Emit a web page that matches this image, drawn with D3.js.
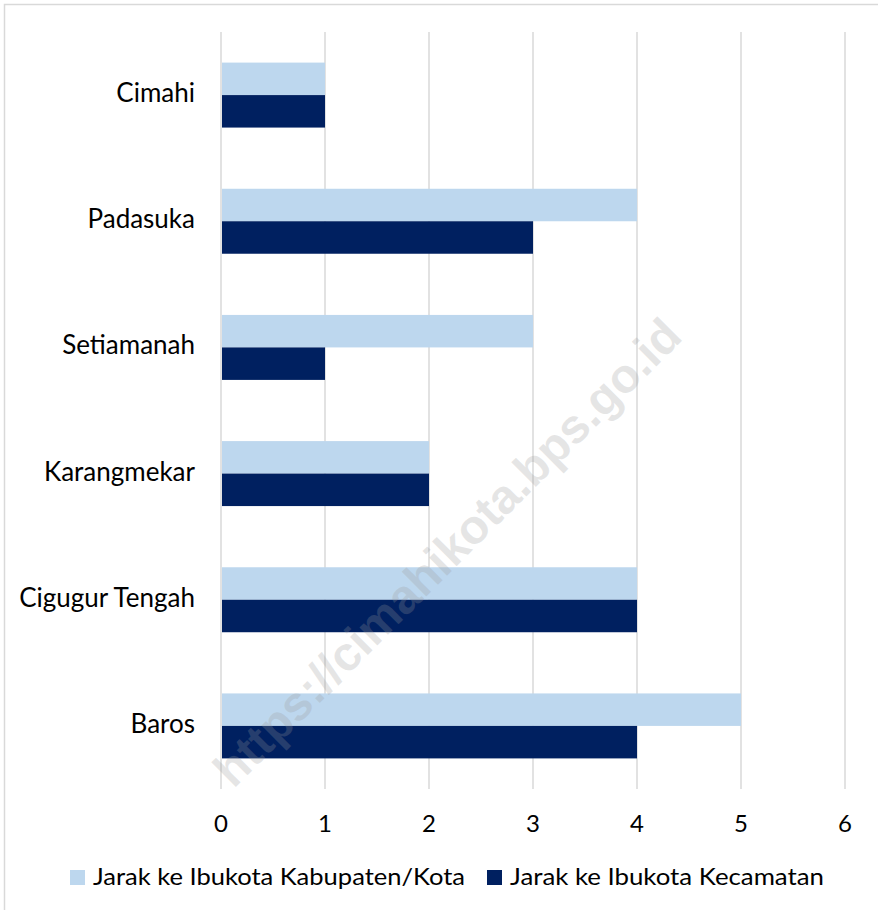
<!DOCTYPE html>
<html lang="en">
<head>
<meta charset="UTF-8">
<title>Jarak ke Ibukota</title>
<script src="https://cdn.jsdelivr.net/npm/d3@7"></script>
<style>
  body { margin: 0; background: #fff; }
  text { font-family: Lato, "Liberation Sans", sans-serif; }
</style>
</head>
<body>
<div id="chart"></div>
<script>
var categories = ["Cimahi", "Padasuka", "Setiamanah", "Karangmekar", "Cigugur Tengah", "Baros"];
var seriesNames = ["Jarak ke Ibukota Kabupaten/Kota", "Jarak ke Ibukota Kecamatan"];
var kabupatenKota = [1, 4, 3, 2, 4, 5];
var kecamatan = [1, 3, 1, 2, 4, 4];
var xTicks = [0, 1, 2, 3, 4, 5, 6];
var colors = ["#bdd7ee", "#002060"];

var width = 878, height = 910;
var margin = {top: 32, left: 221, right: 33, bottom: 121};

var svg = d3.select("#chart").append("svg")
    .attr("width", width)
    .attr("height", height);

// outer frame
svg.append("rect")
    .attr("x", 4.5).attr("y", 4.5)
    .attr("width", width + 10).attr("height", height + 10)
    .attr("fill", "none")
    .attr("stroke", "#d9d9d9")
    .attr("stroke-width", 1.5);

var x = d3.scaleLinear().domain([0, 6]).range([margin.left, width - margin.right]);
var y = d3.scaleBand().domain(categories)
    .range([margin.top, height - margin.bottom])
    .paddingInner(0.485).paddingOuter(0.2425);
var ySub = d3.scaleBand().domain(seriesNames).range([0, y.bandwidth()]);

// gridlines
svg.append("g").selectAll("line")
    .data(xTicks)
    .enter()
    .append("line")
    .attr("x1", function(d){ return x(d); })
    .attr("x2", function(d){ return x(d); })
    .attr("y1", margin.top)
    .attr("y2", height - margin.bottom)
    .attr("stroke", "#d9d9d9")
    .attr("stroke-width", 1.5);

var rows = categories.map(function(c, i){
    return {cat: c, values: [kabupatenKota[i], kecamatan[i]]};
});

var groups = svg.append("g").selectAll("g")
    .data(rows)
    .enter()
    .append("g")
    .attr("transform", function(d){ return "translate(0," + y(d.cat) + ")"; });

groups.selectAll("rect")
    .data(function(d){ return d.values.map(function(v, j){ return {s: seriesNames[j], v: v, j: j}; }); })
    .enter()
    .append("rect")
    .attr("x", x(0) + 1)
    .attr("y", function(d){ return ySub(d.s); })
    .attr("width", function(d){ return x(d.v) - x(0) - 1; })
    .attr("height", ySub.bandwidth())
    .attr("fill", function(d){ return colors[d.j]; });

// category labels
svg.append("g").selectAll("text")
    .data(categories)
    .enter()
    .append("text")
    .attr("x", x(0) - 26)
    .attr("y", function(d){ return y(d) + y.bandwidth() / 2 + 7; })
    .attr("text-anchor", "end")
    .style("font-size", "26px")
    .attr("fill", "#000")
    .text(function(d){ return d; });

// x tick labels
svg.append("g").selectAll("text")
    .data(xTicks)
    .enter()
    .append("text")
    .attr("x", function(d){ return x(d); })
    .attr("y", 832)
    .attr("text-anchor", "middle")
    .style("font-size", "24px")
    .attr("fill", "#000")
    .text(function(d){ return d; });

// legend
var legendX = [70, 487];
var legendW = [372, 314];
var legend = svg.append("g").selectAll("g")
    .data(seriesNames)
    .enter()
    .append("g")
    .attr("transform", function(d, i){ return "translate(" + legendX[i] + ",870)"; });
legend.append("rect")
    .attr("width", 15).attr("height", 15)
    .attr("fill", function(d, i){ return colors[i]; });
legend.append("text")
    .attr("x", 23)
    .attr("y", 15)
    .style("font-size", "24px")
    .attr("textLength", function(d, i){ return legendW[i]; })
    .attr("lengthAdjust", "spacingAndGlyphs")
    .attr("fill", "#000")
    .text(function(d){ return d; });

// watermark
svg.append("text")
    .attr("transform", "translate(447,552) rotate(-45)")
    .attr("text-anchor", "middle")
    .attr("dy", "0.35em")
    .style("font-family", "'Liberation Sans', Arial, sans-serif")
    .style("font-weight", "bold")
    .style("font-size", "48px")
    .attr("fill", "#999")
    .attr("fill-opacity", 0.25)
    .text("https://cimahikota.bps.go.id");
</script>
</body>
</html>
